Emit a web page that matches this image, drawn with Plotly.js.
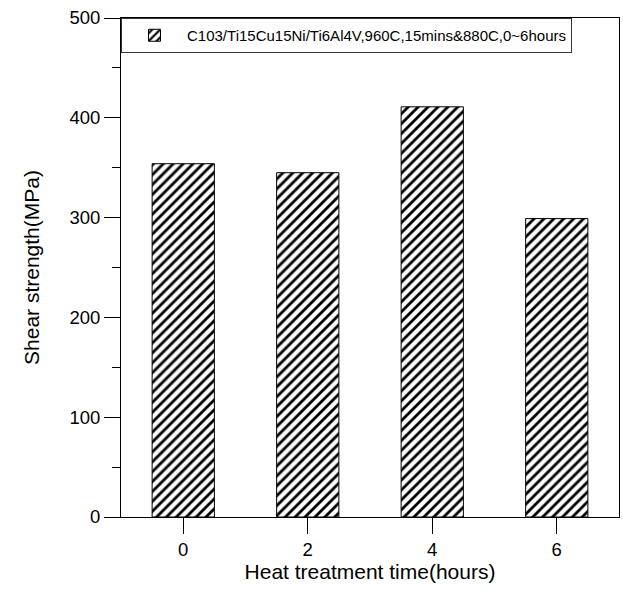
<!DOCTYPE html>
<html>
<head>
<meta charset="utf-8">
<script src="https://cdn.plot.ly/plotly-3.0.1.min.js"></script>
<style>html,body{margin:0;padding:0;background:#fff;}#chart{width:623px;height:590px;}</style>
</head>
<body>
<div id="chart"></div>
<script>
const hours = [0, 2, 4, 6];
const shearStrength = [354, 345, 411, 299];
const seriesName = 'C103/Ti15Cu15Ni/Ti6Al4V,960C,15mins&880C,0~6hours';
const xTickVals = [0, 2, 4, 6];
const yTickVals = [0, 100, 200, 300, 400, 500];

const trace = {
  type: 'bar',
  x: hours,
  y: shearStrength,
  width: 1,
  name: seriesName,
  showlegend: true,
  marker: {
    color: '#ffffff',
    line: {color: '#000000', width: 1},
    pattern: {shape: '/', fgcolor: '#000000', bgcolor: '#ffffff', size: 7, solidity: 0.4}
  }
};

const font = 'Arial, "Liberation Sans", sans-serif';
const layout = {
  width: 623, height: 590,
  margin: {l: 121, r: 4, t: 18, b: 73},
  paper_bgcolor: '#ffffff', plot_bgcolor: '#ffffff',
  font: {family: font, color: '#000000', size: 17},
  showlegend: true,
  legend: {
    x: 0, y: 1, xanchor: 'left', yanchor: 'top',
    bordercolor: '#333333', borderwidth: 1, bgcolor: '#ffffff',
    font: {family: font, size: 15, color: '#000000'},
    itemwidth: 55,
    tracegroupgap: 0
  },
  xaxis: {
    range: [-1, 7], tickvals: xTickVals, ticktext: xTickVals.map(String),
    showgrid: false, zeroline: false,
    showline: true, linecolor: '#000000', linewidth: 1, mirror: true,
    ticks: 'outside', ticklen: 16, tickwidth: 1, tickcolor: '#000000',
    tickfont: {size: 18.5},
    title: {text: 'Heat treatment time(hours)', font: {size: 21}, standoff: 5}
  },
  yaxis: {
    range: [0, 500], tickvals: yTickVals, ticktext: yTickVals.map(String),
    showgrid: false, zeroline: false,
    showline: true, linecolor: '#000000', linewidth: 1, mirror: true,
    ticks: 'outside', ticklen: 16, tickwidth: 1, tickcolor: '#000000',
    tickfont: {size: 18.5},
    minor: {dtick: 50, ticks: 'outside', ticklen: 8, tickwidth: 1, tickcolor: '#000000', showgrid: false},
    title: {text: 'Shear strength(MPa)', font: {size: 21}, standoff: 24}
  },
  bargap: 0
};

Plotly.newPlot('chart', [trace], layout, {displayModeBar: false, staticPlot: true});
</script>
</body>
</html>
